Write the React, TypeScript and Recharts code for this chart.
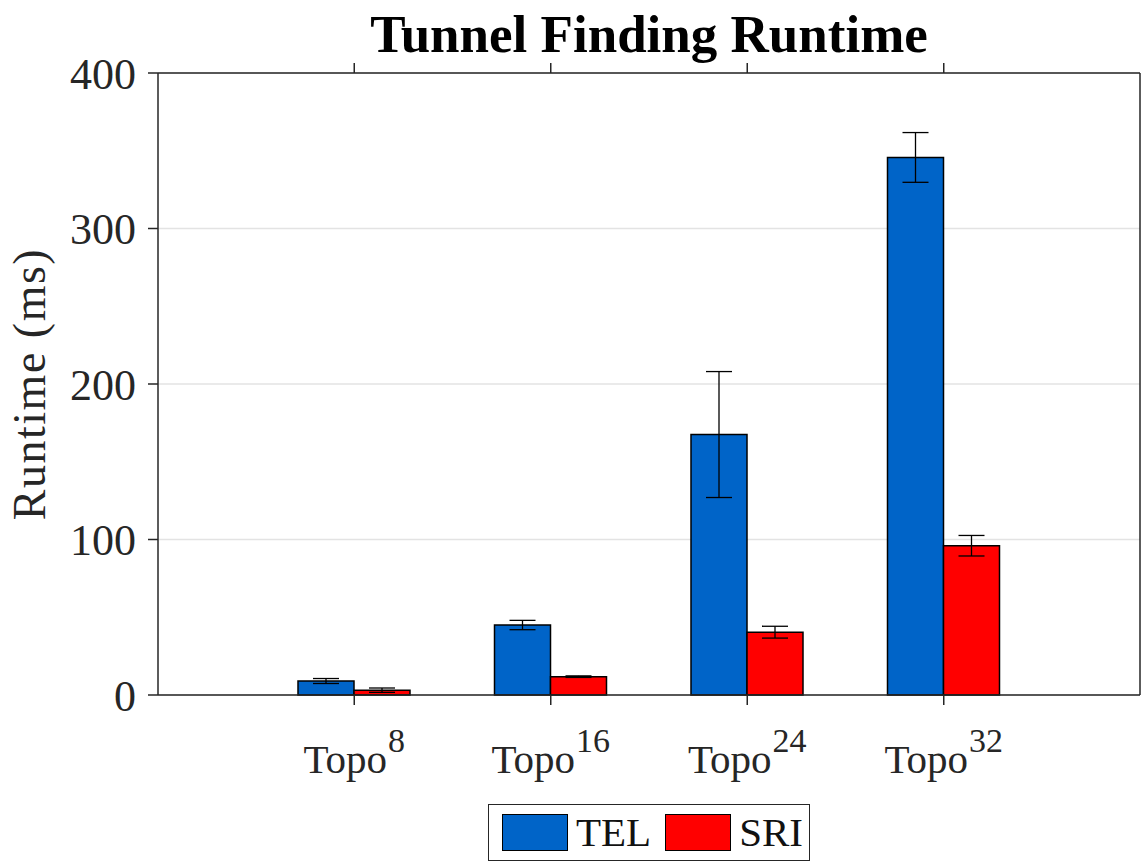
import React from "react";
import {
  BarChart,
  Bar,
  XAxis,
  YAxis,
  CartesianGrid,
  ErrorBar,
  Legend,
} from "recharts";

const topoSizes = [8, 16, 24, 32];
const telRuntime = [9.0, 45.0, 167.5, 345.7];
const telError = [1.6, 3.0, 40.5, 16.0];
const sriRuntime = [3.1, 11.8, 40.4, 96.0];
const sriError = [1.4, 0.5, 3.8, 6.6];
const yTicks = [0, 100, 200, 300, 400];

const TEL_COLOR = "#0064c8";
const SRI_COLOR = "#ff0000";
const AXIS_COLOR = "#262626";
const FONT = '"Liberation Serif", "DejaVu Serif", serif';

const data = topoSizes.map((n, i) => ({
  name: `Topo${n}`,
  tel: telRuntime[i],
  telErr: telError[i],
  sri: sriRuntime[i],
  sriErr: sriError[i],
}));

const TopoTick = (props: any) => {
  const { x, y, index } = props;
  return (
    <text
      x={x}
      y={y + 66}
      textAnchor="middle"
      fontFamily={FONT}
      fontSize={41}
      fill={AXIS_COLOR}
    >
      Topo
      <tspan dx={1} dy={-21} fontSize={34}>
        {topoSizes[index]}
      </tspan>
    </text>
  );
};

// tick marks only, no labels (top and right box edges)
const NoLabel = () => <g />;

const LegendBox = () => {
  const items = [
    { label: "TEL", color: TEL_COLOR },
    { label: "SRI", color: SRI_COLOR },
  ];
  return (
    <div
      style={{
        boxSizing: "border-box",
        width: 322,
        height: 57,
        border: `1.5px solid ${AXIS_COLOR}`,
        background: "#fff",
        display: "flex",
        alignItems: "center",
        paddingLeft: 13,
        fontFamily: FONT,
        fontSize: 41,
        color: "#111",
      }}
    >
      {items.map((it, i) => (
        <div
          key={it.label}
          style={{ display: "flex", alignItems: "center", marginLeft: i ? 14 : 0 }}
        >
          <div
            style={{
              boxSizing: "border-box",
              width: 66,
              height: 37,
              background: it.color,
              border: "1.5px solid #000",
              marginRight: 8,
            }}
          />
          <span style={{ lineHeight: "41px" }}>{it.label}</span>
        </div>
      ))}
    </div>
  );
};

export default function App() {
  return (
    <div
      style={{
        position: "absolute",
        left: 0,
        top: 0,
        width: 1142,
        height: 862,
        background: "#fff",
      }}
    >
      <div
        style={{
          position: "absolute",
          left: 158,
          top: 8,
          width: 982,
          textAlign: "center",
          fontFamily: FONT,
          fontWeight: "bold",
          fontSize: 53,
          lineHeight: "53px",
          color: "#000",
          zIndex: 2,
        }}
      >
        Tunnel Finding Runtime
      </div>
      <BarChart
        width={1142}
        height={862}
        data={data}
        margin={{ top: 72, right: 1, bottom: 0, left: 0 }}
        barSize={56}
        barGap={0}
      >
        <CartesianGrid
          vertical={false}
          stroke="#e3e3e3"
          strokeWidth={1.5}
          horizontalValues={yTicks}
        />
        <XAxis
          dataKey="name"
          height={167}
          padding={{ left: 98, right: 98 }}
          tick={<TopoTick />}
          tickSize={10}
          stroke={AXIS_COLOR}
          strokeWidth={1.5}
          interval={0}
        />
        <XAxis
          xAxisId="top"
          orientation="top"
          dataKey="name"
          height={1}
          padding={{ left: 98, right: 98 }}
          tick={<NoLabel />}
          tickSize={10}
          stroke={AXIS_COLOR}
          strokeWidth={1.5}
          interval={0}
        />
        <YAxis
          width={158}
          domain={[0, 400]}
          ticks={yTicks}
          tickSize={10}
          tickMargin={12}
          stroke={AXIS_COLOR}
          strokeWidth={1.5}
          tick={{ fontFamily: FONT, fontSize: 44, fill: AXIS_COLOR }}
          label={({ viewBox }: any) => {
            const cx = viewBox.x + 34;
            const cy = viewBox.y + viewBox.height / 2;
            return (
              <text
                x={cx}
                y={cy}
                transform={`rotate(-90 ${cx} ${cy})`}
                textAnchor="middle"
                dominantBaseline="middle"
                fontFamily={FONT}
                fontSize={46}
                letterSpacing={1.5}
                fill={AXIS_COLOR}
              >
                Runtime (ms)
              </text>
            );
          }}
        />
        <YAxis
          yAxisId="right"
          orientation="right"
          width={1}
          domain={[0, 400]}
          ticks={yTicks}
          tick={<NoLabel />}
          tickSize={10}
          stroke={AXIS_COLOR}
          strokeWidth={1.5}
        />
        <Legend
          layout="horizontal"
          verticalAlign="middle"
          align="center"
          content={<LegendBox />}
          wrapperStyle={{ position: "absolute", left: 488, top: 804, width: 322, height: 57 }}
        />
        <Bar
          dataKey="tel"
          name="TEL"
          fill={TEL_COLOR}
          stroke="#000"
          strokeWidth={1.5}
          isAnimationActive={false}
        >
          <ErrorBar
            dataKey="telErr"
            width={13}
            stroke="#000"
            strokeWidth={1.3}
            isAnimationActive={false}
          />
        </Bar>
        <Bar
          dataKey="sri"
          name="SRI"
          fill={SRI_COLOR}
          stroke="#000"
          strokeWidth={1.5}
          isAnimationActive={false}
        >
          <ErrorBar
            dataKey="sriErr"
            width={13}
            stroke="#000"
            strokeWidth={1.3}
            isAnimationActive={false}
          />
        </Bar>
      </BarChart>
    </div>
  );
}
